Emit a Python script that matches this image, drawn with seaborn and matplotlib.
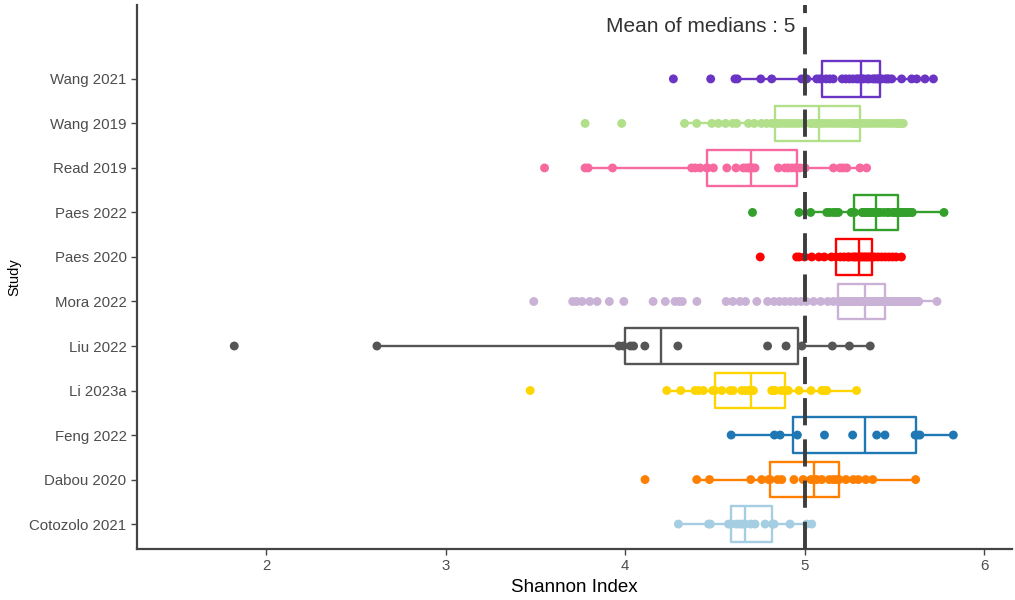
import matplotlib
matplotlib.use("Agg")
import matplotlib.pyplot as plt
import numpy as np
import pandas as pd
import seaborn as sns

# study order, top to bottom
STUDIES = ["Wang 2021", "Wang 2019", "Read 2019", "Paes 2022", "Paes 2020",
           "Mora 2022", "Liu 2022", "Li 2023a", "Feng 2022", "Dabou 2020",
           "Cotozolo 2021"]

COLORS = ["#6A35C4", "#B2DF8A", "#F7699F", "#33A02C", "#FF0000",
          "#CAB2D6", "#555555", "#FFD500", "#1F78B4", "#FF7F00", "#A6CEE3"]

# Shannon index per sample
wang_2021 = [4.269, 4.477, 4.612, 4.625, 4.756, 4.817, 4.984, 5.012, 5.068, 5.085,
             5.096,
             5.12, 5.14, 5.16, 5.21, 5.23, 5.25, 5.27, 5.29, 5.30,
             5.313,
             5.32, 5.33, 5.35, 5.36, 5.38, 5.39, 5.40, 5.41, 5.415,
             5.421,
             5.43, 5.45, 5.46, 5.47, 5.486, 5.541, 5.597, 5.625, 5.671, 5.718]

wang_2019 = [3.777, 3.981, 4.331, 4.399, 4.483, 4.52, 4.56, 4.60, 4.622, 4.687,
             4.72, 4.76, 4.789, 4.817,
             4.836,
             4.85, 4.87, 4.89, 4.91, 4.93, 4.95, 4.97, 4.993, 5.031, 5.045,
             5.06, 5.07, 5.075,
             5.081,
             5.10, 5.12, 5.14, 5.16, 5.18, 5.20, 5.22, 5.24, 5.26, 5.27,
             5.28, 5.29, 5.30,
             5.309,
             5.33, 5.35, 5.37, 5.39, 5.41, 5.43, 5.45, 5.47, 5.49, 5.51,
             5.52, 5.53, 5.54, 5.55]

read_2019 = [3.551, 3.777, 3.794, 3.930, 4.371, 4.39, 4.418, 4.455,
             4.459,
             4.492, 4.567, 4.618, 4.659, 4.675, 4.69, 4.695,
             4.700,
             4.71, 4.724, 4.854, 4.891, 4.91, 4.93, 4.95,
             4.956,
             4.975, 5.003, 5.161, 5.198, 5.215, 5.235, 5.309, 5.346]

paes_2022 = [4.710, 4.969, 5.034, 5.124, 5.14, 5.16, 5.175, 5.189, 5.26,
             5.278,
             5.32, 5.33, 5.34, 5.35, 5.36, 5.37, 5.38, 5.39,
             5.397,
             5.41, 5.42, 5.44, 5.46, 5.47, 5.49, 5.50, 5.51,
             5.519,
             5.53, 5.54, 5.55, 5.56, 5.569, 5.58, 5.597, 5.60, 5.777]

paes_2020 = [4.753, 4.956, 4.97, 5.00, 5.04, 5.08, 5.11, 5.15,
             5.176,
             5.20, 5.22, 5.24, 5.25, 5.27, 5.28, 5.29,
             5.304,
             5.31, 5.32, 5.33, 5.34, 5.35, 5.36, 5.37,
             5.377,
             5.39, 5.41, 5.43, 5.45, 5.47, 5.49, 5.51, 5.54]

mora_2022 = [3.491, 3.708, 3.73, 3.76, 3.803, 3.844, 3.912, 3.993, 4.156, 4.224,
             4.278, 4.30, 4.319, 4.400, 4.563, 4.60, 4.64, 4.671, 4.734,
             4.794, 4.83, 4.86, 4.89, 4.92, 4.95, 4.98, 5.01, 5.05, 5.09, 5.13, 5.16,
             5.187,
             5.19, 5.20, 5.20, 5.21, 5.22, 5.22, 5.23, 5.24, 5.24, 5.25,
             5.26, 5.26, 5.27, 5.27, 5.28, 5.28, 5.29, 5.29, 5.30, 5.30,
             5.31, 5.31, 5.32, 5.32, 5.32, 5.33, 5.33, 5.33, 5.335, 5.338,
             5.339,
             5.34, 5.345, 5.35, 5.35, 5.355, 5.36, 5.36, 5.365, 5.37, 5.37,
             5.375, 5.38, 5.38, 5.385, 5.39, 5.39, 5.395, 5.40, 5.40, 5.405,
             5.41, 5.41, 5.415, 5.42, 5.42, 5.425, 5.43, 5.435, 5.44, 5.445,
             5.450,
             5.46, 5.47, 5.48, 5.49, 5.50, 5.51, 5.52, 5.53, 5.54, 5.55,
             5.56, 5.57, 5.58, 5.59, 5.60, 5.61, 5.62, 5.63, 5.635, 5.46,
             5.47, 5.48, 5.50, 5.52, 5.54, 5.56, 5.58, 5.60, 5.62, 5.635,
             5.738]

liu_2022 = [1.822, 2.617, 3.966, 3.99, 4.03, 4.047, 4.110, 4.294, 4.794, 4.897,
            4.985, 5.155, 5.250, 5.366]

li_2023a = [3.471, 4.232, 4.310, 4.390, 4.41, 4.436, 4.488,
            4.501,
            4.539, 4.585, 4.603, 4.650, 4.67, 4.69,
            4.700,
            4.708, 4.715, 4.817, 4.826, 4.836, 4.87,
            4.891,
            4.910, 4.969, 5.036, 5.096, 5.11, 5.124, 5.290]

feng_2022 = [4.591, 4.832, 4.864, 4.960, 5.111, 5.268, 5.402, 5.448, 5.616,
             5.630, 5.643, 5.829]

dabou_2020 = [4.111, 4.399, 4.470, 4.700, 4.761, 4.80,
              4.808,
              4.85, 4.873, 4.941, 4.992, 5.035,
              5.053,
              5.07, 5.096, 5.138, 5.16, 5.179,
              5.192,
              5.231, 5.272, 5.300, 5.341, 5.380, 5.619]

cotozolo_2021 = [4.297, 4.465, 4.475, 4.576,
                 4.591,
                 4.62, 4.64, 4.655,
                 4.669,
                 4.70, 4.724, 4.780,
                 4.821,
                 4.83, 4.919, 5.012, 5.040]

MEAN_OF_MEDIANS = 5

values = [wang_2021, wang_2019, read_2019, paes_2022, paes_2020, mora_2022,
          liu_2022, li_2023a, feng_2022, dabou_2020, cotozolo_2021]
df = pd.concat([pd.DataFrame({"Study": s, "Shannon": v})
                for s, v in zip(STUDIES, values)], ignore_index=True)
palette = dict(zip(STUDIES, COLORS))

sns.set_style("white")
plt.rcParams["font.family"] = ["Liberation Sans", "DejaVu Sans"]

fig = plt.figure(figsize=(10.15, 6), dpi=100)
ax = fig.add_axes([137 / 1015, 51 / 600, 875 / 1015, 544 / 600])

sns.boxplot(data=df, x="Shannon", y="Study", hue="Study", order=STUDIES,
            hue_order=STUDIES, palette=palette, fill=False, width=0.8,
            linewidth=1.7, showcaps=False, showfliers=False, whis=1.5,
            legend=False, ax=ax)
sns.stripplot(data=df, x="Shannon", y="Study", hue="Study", order=STUDIES,
              hue_order=STUDIES, palette=palette, jitter=False, size=6.4,
              linewidth=0, legend=False, ax=ax, zorder=3)

ax.axvline(MEAN_OF_MEDIANS, color="#3d3d3d", lw=2.8,
           linestyle=(0, (7, 3.6)), zorder=5)
ax.text(MEAN_OF_MEDIANS - 0.05, -1.17, f"Mean of medians : {MEAN_OF_MEDIANS}",
        ha="right", va="center", fontsize=15, color="#333333")

ax.set_xlim(1.28, 6.156)
ax.set_ylim(10.56, -1.66)
ax.set_xticks([2, 3, 4, 5, 6])
ax.set_xlabel("Shannon Index", fontsize=13.5, color="black", labelpad=4)
ax.set_ylabel("Study", fontsize=10.5, color="black", labelpad=6)

for side in ["top", "right"]:
    ax.spines[side].set_visible(False)
for side in ["left", "bottom"]:
    ax.spines[side].set_color("#444444")
    ax.spines[side].set_linewidth(1.6)
ax.tick_params(axis="both", length=4, width=1, color="#444444",
               labelcolor="#4D4D4D", labelsize=10.8, direction="out",
               bottom=True, left=True)
ax.grid(False)

fig.savefig("out.png", dpi=100)
